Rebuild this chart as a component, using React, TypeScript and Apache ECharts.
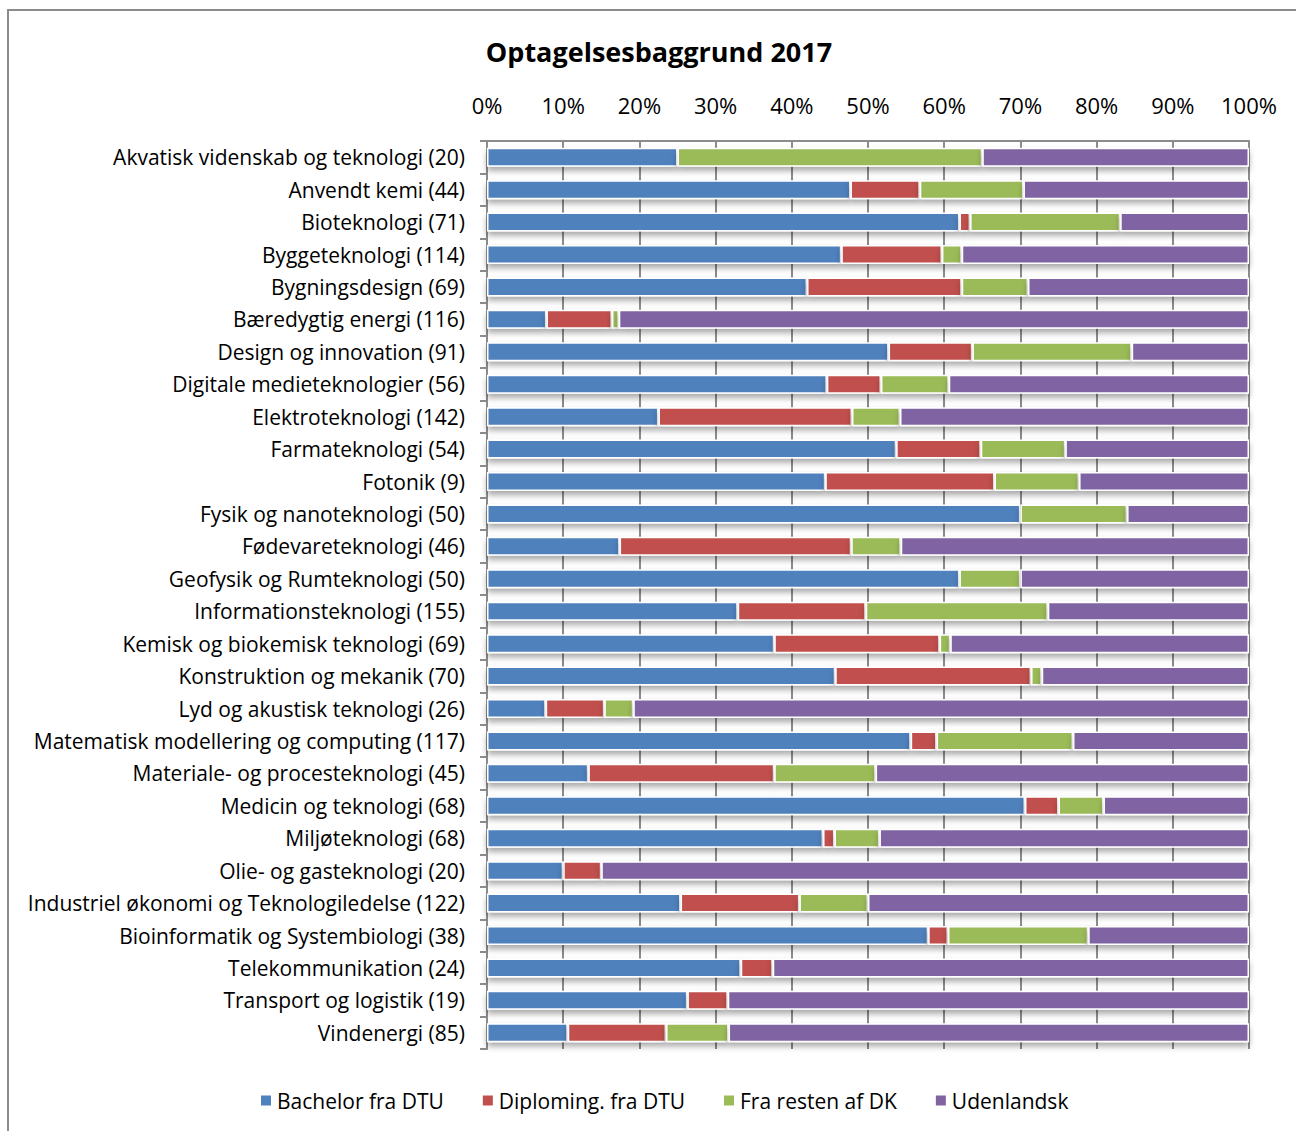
import React, { useEffect, useRef } from "react";
import * as echarts from "echarts";

const title = "Optagelsesbaggrund 2017";

const categories = [
  "Akvatisk videnskab og teknologi (20)",
  "Anvendt kemi (44)",
  "Bioteknologi (71)",
  "Byggeteknologi (114)",
  "Bygningsdesign (69)",
  "Bæredygtig energi (116)",
  "Design og innovation (91)",
  "Digitale medieteknologier (56)",
  "Elektroteknologi (142)",
  "Farmateknologi (54)",
  "Fotonik (9)",
  "Fysik og nanoteknologi (50)",
  "Fødevareteknologi (46)",
  "Geofysik og Rumteknologi (50)",
  "Informationsteknologi (155)",
  "Kemisk og biokemisk teknologi (69)",
  "Konstruktion og mekanik (70)",
  "Lyd og akustisk teknologi (26)",
  "Matematisk modellering og computing (117)",
  "Materiale- og procesteknologi (45)",
  "Medicin og teknologi (68)",
  "Miljøteknologi (68)",
  "Olie- og gasteknologi (20)",
  "Industriel økonomi og Teknologiledelse (122)",
  "Bioinformatik og Systembiologi (38)",
  "Telekommunikation (24)",
  "Transport og logistik (19)",
  "Vindenergi (85)",
];

const seriesNames = ["Bachelor fra DTU", "Diploming. fra DTU", "Fra resten af DK", "Udenlandsk"];

const bachelorDTU = [25.0, 47.7, 62.0, 46.5, 42.0, 7.8, 52.7, 44.6, 22.5, 53.7, 44.4, 70.0, 17.4, 62.0, 32.9, 37.7, 45.7, 7.7, 55.6, 13.3, 70.6, 44.1, 10.0, 25.4, 57.9, 33.3, 26.3, 10.6];
const diplomingDTU = [0.0, 9.1, 1.4, 13.2, 20.3, 8.6, 11.0, 7.1, 25.4, 11.1, 22.2, 0.0, 30.4, 0.0, 16.8, 21.7, 25.7, 7.7, 3.4, 24.4, 4.4, 1.5, 5.0, 15.6, 2.6, 4.2, 5.3, 12.9];
const restenDK = [40.0, 13.6, 19.7, 2.6, 8.7, 0.9, 20.9, 8.9, 6.3, 11.1, 11.1, 14.0, 6.5, 8.0, 23.9, 1.4, 1.4, 3.8, 17.9, 13.3, 5.9, 5.9, 0.0, 9.0, 18.4, 0.0, 0.0, 8.2];
const udenlandsk = [35.0, 29.6, 16.9, 37.7, 29.0, 82.7, 15.4, 39.4, 45.8, 24.1, 22.3, 16.0, 45.7, 30.0, 26.4, 39.2, 27.2, 80.8, 23.1, 49.0, 19.1, 48.5, 85.0, 50.0, 21.1, 62.5, 68.4, 68.3];

const xTicks = { min: 0, max: 100, interval: 10 };

const colors = ["#4F81BD", "#C0504D", "#9BBB59", "#8064A2"];

export default function App() {
  const ref = useRef<HTMLDivElement>(null);
  useEffect(() => {
    if (!ref.current) return;
    const chart = echarts.init(ref.current, null, { renderer: "svg" });
    const font = "'Open Sans', 'Noto Sans', sans-serif";
    const data = [bachelorDTU, diplomingDTU, restenDK, udenlandsk];
    chart.setOption({
      animation: false,
      backgroundColor: "#ffffff",
      color: colors,
      title: {
        text: title,
        left: 654,
        textAlign: "center",
        top: 33,
        textStyle: { fontFamily: font, fontSize: 27, fontWeight: "bold", color: "#000" },
      },
      legend: {
        bottom: 15,
        left: 254,
        itemWidth: 12,
        itemHeight: 12,
        itemGap: 37,
        icon: "rect",
        textStyle: { fontFamily: font, fontSize: 21, color: "#000" },
        data: seriesNames,
      },
      graphic: [
        {
          type: "rect",
          shape: { x: 8, y: 10, width: 1300, height: 1130 },
          style: { fill: "none", stroke: "#8c8c8c", lineWidth: 2 },
          silent: true,
        },
      ],
      grid: { left: 487, right: 47, top: 141, height: 908, containLabel: false },
      xAxis: {
        type: "value",
        position: "top",
        min: xTicks.min,
        max: xTicks.max,
        interval: xTicks.interval,
        axisLine: { show: true, lineStyle: { color: "#8c8c8c", width: 2 } },
        axisTick: { show: false },
        axisLabel: {
          formatter: "{value}%",
          fontFamily: font,
          fontSize: 22,
          color: "#000",
          margin: 25,
        },
        splitLine: { show: true, lineStyle: { color: "#8c8c8c", width: 2 } },
      },
      yAxis: {
        type: "category",
        inverse: true,
        data: categories,
        axisLine: { show: true, lineStyle: { color: "#8c8c8c", width: 2 } },
        axisTick: { show: true, length: 7, lineStyle: { color: "#8c8c8c", width: 2 } },
        axisLabel: { fontFamily: font, fontSize: 21, color: "#000", margin: 22 },
      },
      series: seriesNames.map((name, i) => ({
        name,
        type: "bar",
        stack: "total",
        barWidth: 19,
        data: data[i],
        itemStyle: {
          color: colors[i],
          borderColor: "#ffffff",
          borderWidth: 1.5,
          shadowColor: "rgba(0,0,0,0.35)",
          shadowBlur: 6,
          shadowOffsetY: 4,
        },
      })),
    });
    return () => chart.dispose();
  }, []);
  return (
    <div
      ref={ref}
      style={{ position: "absolute", left: 0, top: 0, width: 1296, height: 1131 }}
    />
  );
}
